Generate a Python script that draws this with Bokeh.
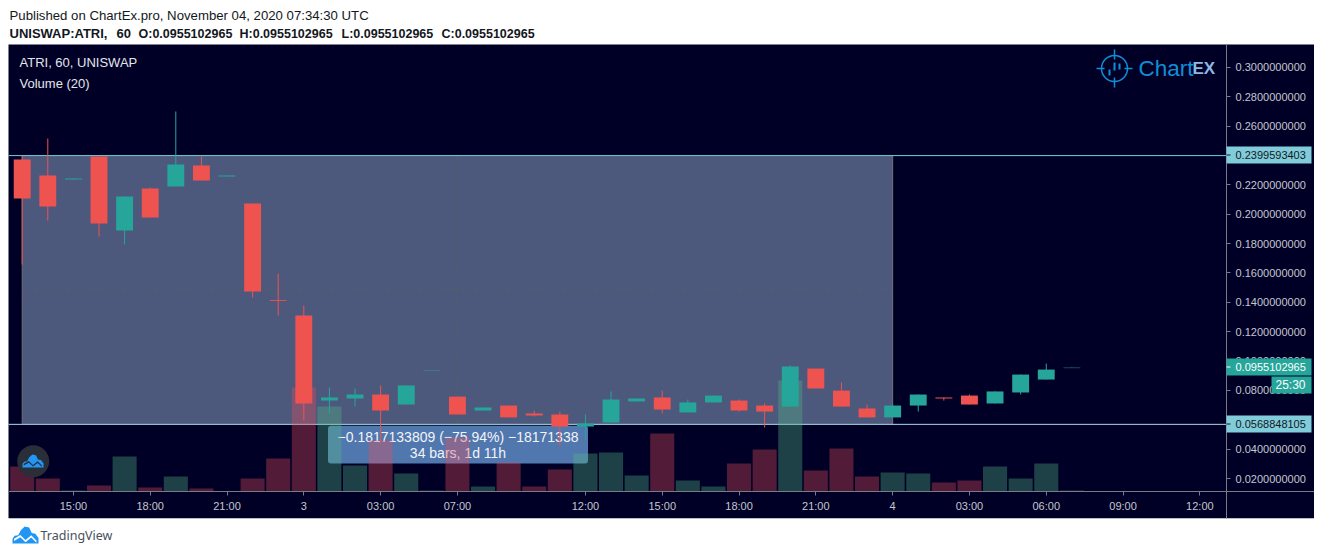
from bokeh.core.properties import value
from bokeh.embed import file_html
from bokeh.resources import INLINE
from bokeh.plotting import figure
from bokeh.models import (Range1d, LinearAxis, FixedTicker, PrintfTickFormatter, Label,
                          BoxAnnotation, PolyAnnotation, ColumnDataSource)

# ---------- data ----------
opens  = [.2373,.2264,.2237,.2393,.1889,.2175,.2189,.2332,.2258,.2073,.1415,.1310,.0731,.0745,.0772,.0704,.0933,.0758,.0663,.0697,.0643,
          .0636,.0554,.0581,.0725,.0752,.0650,.0718,.0731,.0697,.0690,.0949,.0799,.0677,.0616,.0697,.0752,.0765,.0711,.0786,.0874,.0952]
highs  = [.2396,.2516,.2244,.2393,.2121,.2182,.2700,.2393,.2264,.2073,.1596,.1378,.0820,.0813,.0834,.0834,.0936,.0758,.0684,.0697,.0663,
          .0656,.0636,.0793,.0745,.0799,.0738,.0765,.0738,.0711,.0970,.0949,.0854,.0704,.0704,.0772,.0752,.0772,.0793,.0908,.0983,.0955]
lows   = [.1658,.1957,.2237,.1848,.1794,.1978,.2189,.2230,.2258,.1433,.1310,.0595,.0643,.0690,.0438,.0704,.0933,.0636,.0663,.0616,.0622,
          .0425,.0466,.0581,.0725,.0643,.0650,.0718,.0656,.0547,.0690,.0813,.0690,.0616,.0616,.0656,.0731,.0704,.0711,.0772,.0874,.0952]
closes = [.2107,.2053,.2244,.1937,.2121,.1978,.2339,.2230,.2264,.1474,.1409,.0711,.0752,.0772,.0663,.0834,.0936,.0636,.0684,.0616,.0629,
          .0554,.0575,.0738,.0745,.0670,.0718,.0765,.0663,.0656,.0963,.0813,.0690,.0616,.0697,.0772,.0745,.0704,.0793,.0908,.0942,.0955]
volumes = [25,13,1,6,35,4,15,3,0.4,13,33,104,85,26,51,18,1,54,5,29,5,22,38,39,16,58,11,5,28,42,111,21,43,15,19,18,9,11,25,13,28,1]
volume_up = [0,0,1,0,1,0,1,0,0,0,0,0,1,1,0,1,1,0,1,0,0,0,1,1,1,0,1,1,0,0,1,0,0,0,1,1,0,0,1,1,1,1]
time_tick_pos = [2,5,8,11,14,17,22,25,28,31,34,37,40,43,46]
time_tick_labels = ["15:00","18:00","21:00","3","03:00","07:00","12:00","15:00","18:00","21:00","4","03:00","06:00","09:00","12:00"]
price_ticks = [.02,.04,.06,.08,.10,.12,.14,.16,.18,.20,.22,.24,.26,.28,.30]
ruler_top, ruler_bottom, ruler_bars = 0.2399593403, 0.0568848105, 34
last_price = 0.0955102965

BG, RED, TEAL = "#000026", "#EF5350", "#26A69A"
VOL_RED, VOL_TEAL = "#EB4D5C", "#53B987"
AXIS, TXT, CYAN = "#787B86", "#C4C7CE", "#80CCDB"
FONT = "Liberation Sans"

# the frame fills the canvas; axes are pinned inside it so that nothing is clipped
XL, XR = -0.5352, 47.043     # chart pane edges, in bars
YB, YT = 0.01114, 0.31564    # chart pane edges, in price
p = figure(width=1314, height=546, output_backend="svg", toolbar_location=None,
           x_range=Range1d(-0.8477, 50.4777), y_range=Range1d(-0.02632, 0.34561),
           x_axis_location=None, y_axis_location=None,
           min_border_left=0, min_border_top=0, min_border_right=0, min_border_bottom=0)
p.extra_y_ranges["vol"] = Range1d(-55, 491)
p.extra_x_ranges["px"] = Range1d(0, 1314)
p.extra_y_ranges["px"] = Range1d(546, 0)
p.background_fill_color = "white"
p.border_fill_color = "white"
p.outline_line_color = None
p.grid.visible = False
PX = dict(x_range_name="px", y_range_name="px")

def box(l, r, t, b, color, level="annotation", **kw):
    a = BoxAnnotation(left=l, right=r, top=t, bottom=b, left_units="canvas", right_units="canvas",
                      top_units="canvas", bottom_units="canvas", fill_color=color, fill_alpha=1,
                      line_color=None, level=level, **kw)
    p.add_layout(a)
    return a

def text(x, y, s, size=13, color="black", style="normal", align="left", level="annotation", font=FONT):
    p.add_layout(Label(x=x, y=y, x_units="canvas", y_units="canvas", text=s, text_font=font,
                       text_font_size=f"{size}px", text_color=color, text_font_style=style, text_align=align,
                       text_baseline="middle", level=level))

p.quad(left=[8], right=[1314], top=[44], bottom=[517.7], fill_color=BG, line_color=None, **PX)

# axes
yaxis = LinearAxis(fixed_location=XR, bounds=(-0.00704, YT), ticker=FixedTicker(ticks=price_ticks),
                   formatter=PrintfTickFormatter(format="%.10f"))
xaxis = LinearAxis(fixed_location=YB, bounds=(XL, 50.4777), ticker=FixedTicker(ticks=time_tick_pos),
                   major_label_overrides=dict(zip(time_tick_pos, time_tick_labels)))
for ax in (yaxis, xaxis):
    ax.axis_line_color = AXIS
    ax.major_tick_line_color = AXIS
    ax.major_tick_in = 0
    ax.major_tick_out = 4
    ax.minor_tick_line_color = None
    ax.major_label_text_color = TXT
    ax.major_label_text_font = FONT
    ax.major_label_text_font_size = "11px"
    ax.major_label_standoff = 5
xaxis.major_label_standoff = 4
p.add_layout(yaxis, "right")
p.add_layout(xaxis, "below")

idx = list(range(len(opens)))

# measure tool (below the volume pane)
MID = (ruler_top+ruler_bottom)/2
p.quad(left=[0], right=[ruler_bars], top=[ruler_top], bottom=[ruler_bottom], fill_color="#BEDCFF", fill_alpha=0.40, line_color=None)
p.segment(x0=[0, ruler_bars], x1=[0, ruler_bars], y0=[ruler_top]*2, y1=[ruler_bottom]*2, line_color="#70707A", line_width=1)
p.segment(x0=[0], x1=[ruler_bars], y0=[MID], y1=[MID], line_color="#565F66", line_width=1.2, line_dash="5 6")
p.segment(x0=[ruler_bars/2], x1=[ruler_bars/2], y0=[ruler_top], y1=[ruler_bottom], line_color="#565F66", line_width=1.2, line_dash="5 6")
p.segment(x0=[453, 461], y0=[418, 418], x1=[457, 457], y1=[423, 423], line_color="#565F66", line_width=1, **PX)
p.segment(x0=[XL], x1=[XR], y0=[ruler_top], y1=[ruler_top], line_color="#70D0D4", line_width=1)
p.segment(x0=[XL], x1=[XR], y0=[ruler_bottom], y1=[ruler_bottom], line_color="#A6DCE6", line_width=1)
p.quad(left=[327.5], right=[587.5], top=[425.3], bottom=[463], fill_color="#5077AE", line_color=None, border_radius=3, **PX)
p.text(x=[457.5, 457.5], y=[436, 452.5], text=["\u22120.1817133809 (\u221275.94%) \u221218171338", "34 bars, 1d 11h"],
       text_font=value(FONT), text_font_size="14px", text_color="#F2F4F8", text_align="center", text_baseline="middle", **PX)

# volume
vol = ColumnDataSource(dict(x=idx, v=volumes, c=[VOL_TEAL if u else VOL_RED for u in volume_up]))
p.vbar(x="x", top="v", bottom=0, width=0.94, source=vol, fill_color="c", fill_alpha=0.35, line_color=None, y_range_name="vol")

# candles
colors = [TEAL if c >= o else RED for o, c in zip(opens, closes)]
cs = ColumnDataSource(dict(x=idx, o=opens, h=highs, l=lows, c=closes, col=colors))
p.segment(x0="x", x1="x", y0="l", y1="h", source=cs, line_color="col", line_width=1)
p.vbar(x="x", top="o", bottom="c", width=0.66, source=cs, fill_color="col", line_color=None)

# legend texts
text(19, 62, "ATRI, 60, UNISWAP", 13, "#E4E6EC")
text(19, 82.5, "Volume (20)", 13, "#E4E6EC")

# heading
text(9, 15, "Published on ChartEx.pro, November 04, 2020 07:34:30 UTC", 13.2, "#131722")
text(9, 33, "UNISWAP:ATRI,", 13, "#131722", "bold")
text(116, 33, "60", 13, "#131722", "bold")
for x, s in zip([138, 239, 341, 441], ["O", "H", "L", "C"]):
    text(x, 33, f"{s}:{last_price:.10f}", 12.5, "#131722", "bold")

# price tags
for y, s in ((154.5, f"{ruler_top:.10f}"), (423.5, f"{ruler_bottom:.10f}")):
    box(1226, 1311, y-8.5, y+8.5, CYAN)
    box(1226, 1230, y-.5, y+.5, "#131722")
    text(1235, y, s, 11, "#131722")
box(1226, 1311, 358, 375, TEAL)
box(1226, 1230, 366, 367, "white")
text(1235, 366.5, f"{last_price:.10f}", 11, "white")
box(1271, 1311, 376, 393, TEAL)
text(1275, 384.5, "25:30", 12, "white")

# ChartEX logo
LOGO = "#0E8FD8"
p.scatter(x=[1114], y=[68], size=26, marker="circle", fill_color=None, line_color=LOGO, line_width=1.5, **PX)
p.segment(x0=[1114, 1114, 1096, 1124], y0=[49, 77, 68, 68], x1=[1114, 1114, 1104, 1132], y1=[59, 87, 68, 68],
          line_color=LOGO, line_width=1.5, **PX)
p.segment(x0=[1109, 1114, 1119], y0=[75, 70, 63], x1=[1109, 1114, 1119], y1=[69, 62, 69],
          line_color=LOGO, line_width=2, **PX)
text(1138, 68, "Chart", 22.5, LOGO)
text(1192, 68, "EX", 17, "#8DB8E6", "bold")

# TradingView badge and mark
p.scatter(x=[32.7], y=[460.7], size=32, marker="circle", fill_color="#2A2E39", line_color=None, **PX)
CLOUD = [(0,1),(0,.72),(.08,.55),(.22,.52),(.32,.22),(.47,0),(.64,.06),(.74,.38),(.88,.42),(1,.68),(1,1)]
ZIG = [(.06,.72),(.3,.5),(.5,.8),(.72,.52),(.92,.82)]
def mark(l, t, w, h, line):
    p.add_layout(PolyAnnotation(xs=[l+a*w for a, _ in CLOUD], ys=[t+b*h for _, b in CLOUD], xs_units="canvas", ys_units="canvas",
                                fill_color="#2196F3", fill_alpha=1, line_color=None))
    th = 0.13
    xs = [l+a*w for a, _ in ZIG] + [l+a*w for a, _ in reversed(ZIG)]
    ys = [t+b*h for _, b in ZIG] + [t+(b+th)*h for _, b in reversed(ZIG)]
    p.add_layout(PolyAnnotation(xs=xs, ys=ys, xs_units="canvas", ys_units="canvas", fill_color=line, fill_alpha=1, line_color=None))
mark(22, 454, 21, 13, "#2A2E39")
mark(12, 526, 26, 17, "white")
text(40, 535, "TradingView", 12.5, "#4A4F5C", font="Noto Sans")

open("out.html", "w").write(file_html(p, INLINE))
